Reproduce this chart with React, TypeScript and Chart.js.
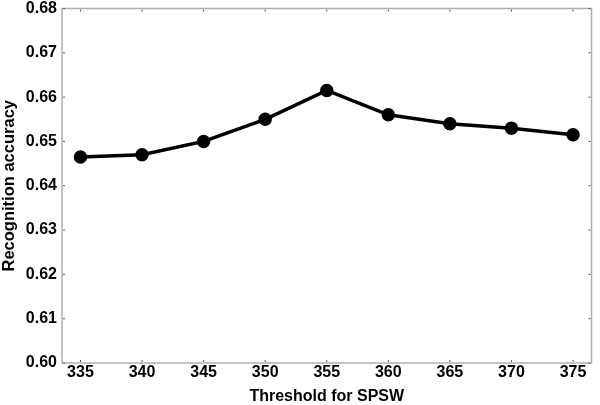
import React, { useEffect, useRef } from "react";
import { Chart, registerables } from "chart.js";
Chart.register(...registerables);

const thresholds = [335, 340, 345, 350, 355, 360, 365, 370, 375];
const accuracy = [0.6465, 0.647, 0.650, 0.655, 0.6615, 0.656, 0.654, 0.653, 0.6515];
const yTicks = [0.60, 0.61, 0.62, 0.63, 0.64, 0.65, 0.66, 0.67, 0.68];

const framePlugin = {
  id: "frame",
  afterDraw(chart: any) {
    const { ctx, chartArea: a, scales } = chart;
    ctx.save();
    ctx.strokeStyle = "#b0b0b0";
    ctx.lineWidth = 1.5;
    ctx.strokeRect(a.left, a.top, a.right - a.left, a.bottom - a.top);
    ctx.strokeStyle = "#555";
    ctx.lineWidth = 1;
    for (const v of thresholds) {
      const x = scales.x.getPixelForValue(v);
      ctx.beginPath(); ctx.moveTo(x, a.bottom - 1); ctx.lineTo(x, a.bottom - 3); ctx.stroke();
      ctx.beginPath(); ctx.moveTo(x, a.top + 1); ctx.lineTo(x, a.top + 3); ctx.stroke();
    }
    for (const v of yTicks) {
      const y = scales.y.getPixelForValue(v);
      ctx.beginPath(); ctx.moveTo(a.left + 1, y); ctx.lineTo(a.left + 3, y); ctx.stroke();
      ctx.beginPath(); ctx.moveTo(a.right - 1, y); ctx.lineTo(a.right - 3, y); ctx.stroke();
    }
    ctx.restore();
  },
};

export default function App() {
  const ref = useRef<HTMLCanvasElement>(null);
  useEffect(() => {
    const chart = new Chart(ref.current!, {
      type: "line",
      data: {
        datasets: [
          {
            data: thresholds.map((t, i) => ({ x: t, y: accuracy[i] })),
            borderColor: "#000",
            backgroundColor: "#000",
            borderWidth: 3.5,
            pointRadius: 5,
            pointStyle: "circle",
            tension: 0,
          },
        ],
      },
      options: {
        animation: false,
        responsive: false,
        layout: { padding: { top: 7, right: 3, left: 0, bottom: 0 } },
        plugins: { legend: { display: false }, tooltip: { enabled: false } },
        scales: {
          x: {
            type: "linear",
            min: 333.5,
            max: 376.5,
            afterBuildTicks: (s: any) => { s.ticks = thresholds.map((v) => ({ value: v })); },
            afterFit: (s: any) => { s.height = 42; s.paddingLeft = 0; s.paddingRight = 0; },
            grid: { display: false, drawTicks: false },
            border: { display: false },
            ticks: {
              color: "#000",
              padding: 0,
              maxRotation: 0,
              autoSkip: false,
              font: { family: "Liberation Sans", weight: "bold", size: 16 },
            },
            title: {
              display: true,
              text: "Threshold for SPSW",
              color: "#000",
              padding: { top: 0, bottom: -1.5 },
              font: { family: "Liberation Sans", weight: "bold", size: 16 },
            },
          },
          y: {
            min: 0.6,
            max: 0.68,
            afterBuildTicks: (s: any) => { s.ticks = yTicks.map((v) => ({ value: v })); },
            afterFit: (s: any) => { s.width = 62; s.paddingTop = 0; s.paddingBottom = 0; },
            grid: { display: false, drawTicks: false },
            border: { display: false },
            ticks: {
              color: "#000",
              padding: 5,
              autoSkip: false,
              callback: (v: any) => Number(v).toFixed(2),
              font: { family: "Liberation Sans", weight: "bold", size: 16 },
            },
            title: {
              display: true,
              text: "Recognition accuracy",
              color: "#000",
              padding: { top: 0, bottom: 0 },
              font: { family: "Liberation Sans", weight: "bold", size: 16.5 },
            },
          },
        },
      },
      plugins: [framePlugin],
    });
    return () => chart.destroy();
  }, []);
  return (
    <div style={{ position: "absolute", left: 0, top: 0, width: 600, height: 405, background: "#fff" }}>
      <canvas ref={ref} width={600} height={405} />
    </div>
  );
}
